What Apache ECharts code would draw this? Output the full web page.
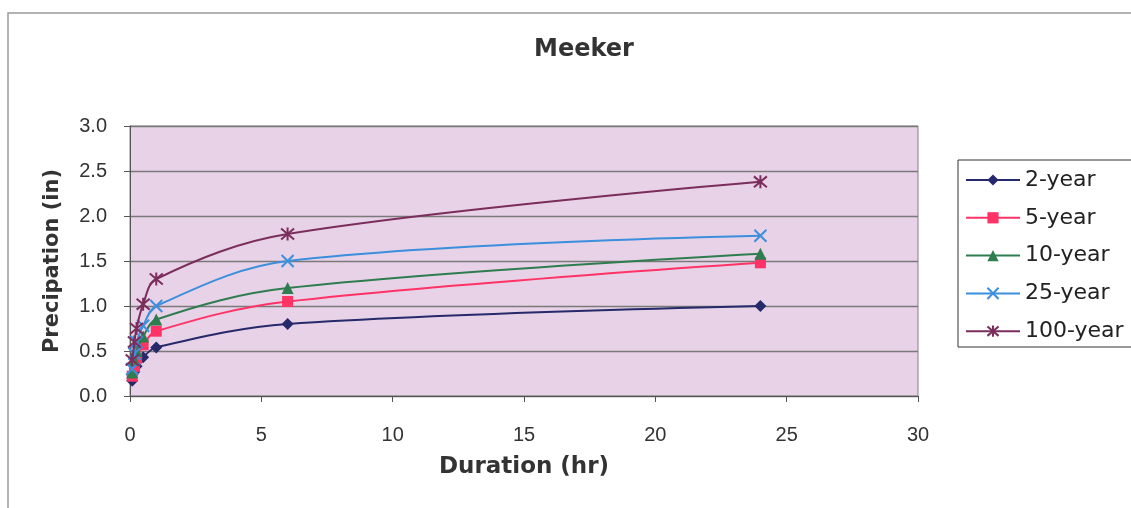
<!DOCTYPE html>
<html>
<head>
<meta charset="utf-8">
<script src="https://cdn.jsdelivr.net/npm/echarts@6/dist/echarts.min.js"></script>
<style>
  html, body { margin: 0; padding: 0; background: #ffffff; }
  #chart { width: 1131px; height: 508px; }
</style>
</head>
<body>
<div id="chart"></div>
<script>
// Storm durations in hours (5, 10, 15, 30 min, 1, 6 and 24 hr)
const durations = [0.083, 0.167, 0.25, 0.5, 1, 6, 24];

// Precipitation depth (in) for each return period
const year2   = [0.17, 0.27, 0.33, 0.43, 0.54, 0.80, 1.00];
const year5   = [0.22, 0.33, 0.42, 0.57, 0.72, 1.05, 1.48];
const year10  = [0.26, 0.40, 0.50, 0.66, 0.85, 1.20, 1.58];
const year25  = [0.30, 0.47, 0.60, 0.78, 1.00, 1.50, 1.78];
const year100 = [0.40, 0.60, 0.75, 1.02, 1.30, 1.80, 2.38];

const seriesNames = ['2-year', '5-year', '10-year', '25-year', '100-year'];
const xTicks = [0, 5, 10, 15, 20, 25, 30];
const yTicks = [0.0, 0.5, 1.0, 1.5, 2.0, 2.5, 3.0];

const FONT = '"Liberation Sans", Arial, sans-serif';
const WIDE = '"DejaVu Sans", Verdana, sans-serif';

function pairs(values) {
  return durations.map((d, i) => [d, values[i]]);
}

const crossPath = 'path://M0,0L10,10M10,0L0,10';
const starPath = 'path://M0,0L10,10M10,0L0,10M5,-1L5,11';

const styles = [
  { color: '#262a6b', symbol: 'diamond', size: 12, stroke: false },
  { color: '#ff3366', symbol: 'rect', size: 11, stroke: false },
  { color: '#2e7d4f', symbol: 'triangle', size: 12, stroke: false },
  { color: '#3b8fdc', symbol: crossPath, size: 12, stroke: true },
  { color: '#7b2d5c', symbol: starPath, size: 13, stroke: true }
];

const dataSets = [year2, year5, year10, year25, year100];

const series = dataSets.map((vals, i) => {
  const s = styles[i];
  return {
    name: seriesNames[i],
    type: 'line',
    data: pairs(vals),
    smooth: 0.35,
    symbol: s.symbol,
    symbolSize: s.size,
    showAllSymbol: true,
    lineStyle: { color: s.color, width: 2 },
    itemStyle: s.stroke
      ? { color: 'none', borderColor: s.color, borderWidth: 2 }
      : { color: s.color, borderColor: s.color, borderWidth: 0 },
    emphasis: { disabled: true },
    z: 2 + i
  };
});

const chart = echarts.init(document.getElementById('chart'), null, { renderer: 'canvas' });

chart.setOption({
  animation: false,
  backgroundColor: '#ffffff',
  title: {
    text: 'Meeker',
    left: 579,
    top: 33,
    textAlign: 'center',
    textStyle: { fontFamily: WIDE, fontSize: 24, fontWeight: 'bold', color: '#333' }
  },
  graphic: [
    {
      type: 'rect',
      shape: { x: 8, y: 13, width: 1140, height: 520 },
      style: { fill: 'none', stroke: '#9a9a9a', lineWidth: 1.5 },
      silent: true,
      z: 0
    },
    {
      type: 'rect',
      shape: { x: 958, y: 160, width: 190, height: 187 },
      style: { fill: '#ffffff', stroke: '#333333', lineWidth: 1 },
      silent: true,
      z: 1
    }
  ],
  legend: {
    orient: 'vertical',
    left: 965,
    top: 169,
    padding: 0,
    itemWidth: 54,
    itemHeight: 14,
    itemGap: 15.8,
    data: seriesNames,
    textStyle: { fontFamily: WIDE, fontSize: 22, color: '#222', lineHeight: 22 },
    z: 10
  },
  grid: {
    left: 130,
    right: 213,
    top: 126,
    bottom: 112,
    show: true,
    backgroundColor: '#e8d2e7',
    borderColor: '#808080',
    borderWidth: 1
  },
  xAxis: {
    type: 'value',
    min: 0,
    max: 30,
    interval: 5,
    name: 'Duration (hr)',
    nameLocation: 'middle',
    nameGap: 60,
    nameTextStyle: { fontFamily: WIDE, fontSize: 23, fontWeight: 'bold', color: '#333' },
    axisLine: { show: true, onZero: false, lineStyle: { color: '#555', width: 1 } },
    axisTick: { show: true, inside: false, length: 6, lineStyle: { color: '#555' } },
    axisLabel: {
      fontFamily: FONT, fontSize: 20, color: '#333', margin: 29,
      formatter: v => String(v)
    },
    splitLine: { show: false }
  },
  yAxis: {
    type: 'value',
    min: 0,
    max: 3,
    interval: 0.5,
    name: 'Precipation (in)',
    nameLocation: 'middle',
    nameGap: 67,
    nameTextStyle: { fontFamily: WIDE, fontSize: 21, fontWeight: 'bold', color: '#333' },
    axisLine: { show: true, lineStyle: { color: '#555', width: 1 } },
    axisTick: { show: true, inside: false, length: 6, lineStyle: { color: '#555' } },
    axisLabel: {
      fontFamily: FONT, fontSize: 20, color: '#333', margin: 23,
      formatter: v => v.toFixed(1)
    },
    splitLine: { show: true, lineStyle: { color: '#7a7a7a', width: 1.3 } }
  },
  series: series
});
</script>
</body>
</html>
